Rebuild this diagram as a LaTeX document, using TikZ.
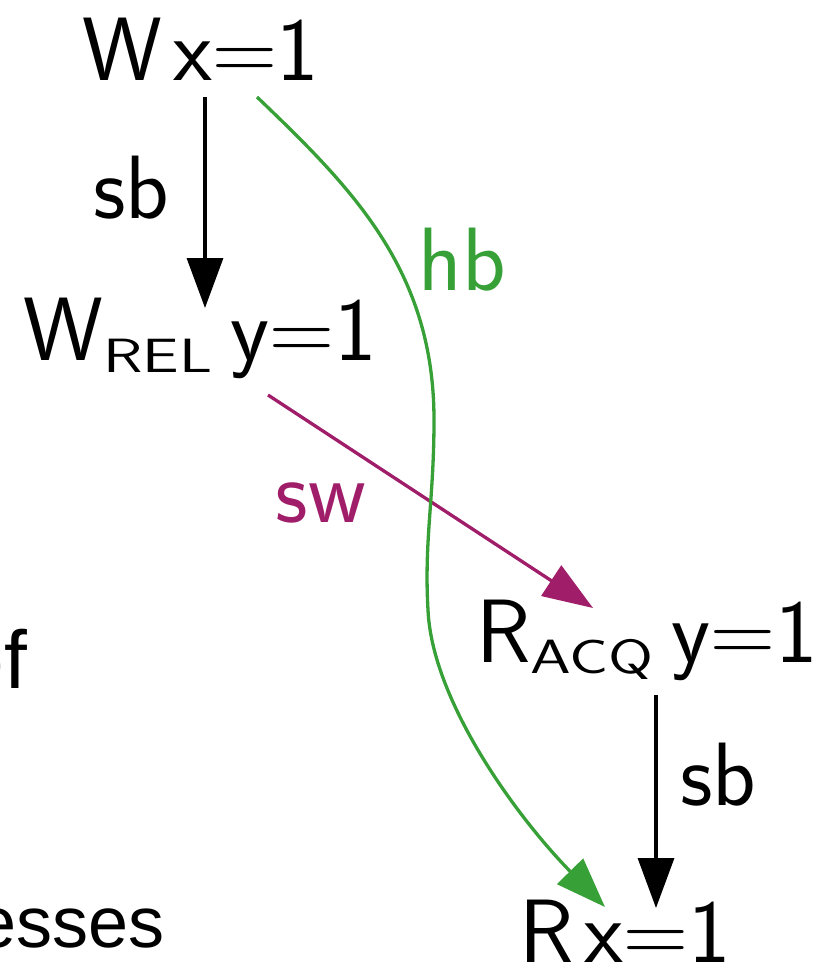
\documentclass[tikz,border=0pt]{standalone}
\usepackage{fontspec}
\newfontfamily\helv{Liberation Sans}
\usetikzlibrary{arrows.meta,calc}
\definecolor{swcol}{RGB}{160,30,105}
\definecolor{hbcol}{RGB}{55,160,55}
\newcommand{\mysub}[2]{\raisebox{#2}{\scalebox{1}[0.74]{\fontsize{65}{65}\selectfont #1}}}
\newcommand{\myeq}{{\rmfamily =}}
\tikzset{
  ev/.style={font=\sffamily\fontsize{90}{90}\selectfont, inner sep=0pt, anchor=base},
  lab/.style={font=\sffamily\fontsize{90}{90}\selectfont, inner sep=0pt, anchor=base},
  bg/.style={font=\helv\fontsize{#1}{#1}\selectfont, inner sep=0pt, anchor=base east},
  sbarr/.style={draw=black, line width=3.3pt, -{Triangle[length=50pt,width=36pt]}},
  swarr/.style={draw=swcol, line width=3.3pt, -{Triangle[length=50pt,width=36pt]}},
  hbarr/.style={draw=hbcol, line width=3.3pt, -{Triangle[length=50pt,width=36pt]}}
}
\begin{document}
\begin{tikzpicture}[x=1pt,y=-1pt]
\useasboundingbox (0,0) rectangle (822,970);
% background text cut at left edge
\node[bg=82] (of) at (27,688) {of};
\node[bg=72] (esses) at (165,947) {esses};
% events
\node[ev] (wx) at (201,80) {W\hspace{0.12em}x\myeq 1};
\node[ev] (wrel) at (200,360) {W\mysub{REL}{-12pt}\hspace{0.2em}y\myeq 1};
\node[ev] (racq) at (647,662) {R\mysub{ACQ}{-11pt}\hspace{0.2em}y\myeq 1};
\node[ev] (rx) at (625,962) {R\hspace{0.12em}x\myeq 1};
% labels
\node[lab] (sb1) at (131,218) {sb};
\node[lab, text=hbcol] (hb) at (462,290) {hb};
\node[lab, text=swcol] (sw) at (321,522) {sw};
\node[lab] (sb2) at (718,805) {sb};
% connectors
\draw[sbarr] ($(wx.base)+(4,17)$) -- ($(wrel.base)+(5,-52)$);
\draw[swarr] ($(wrel.base)+(68,35)$) -- ($(racq.base)+(-54,-54)$);
\draw[sbarr] ($(racq.base)+(9,33)$) -- ($(rx.base)+(31,-54)$);
\draw[hbarr] ($(wx.base)+(56,17)$) .. controls (352,188) and (434,270) .. (434,420)
  .. controls (434,500) and (424,540) .. (428,610)
  .. controls (432,700) and (515,815) .. ($(rx.base)+(-20,-55)$);
\end{tikzpicture}
\end{document}
